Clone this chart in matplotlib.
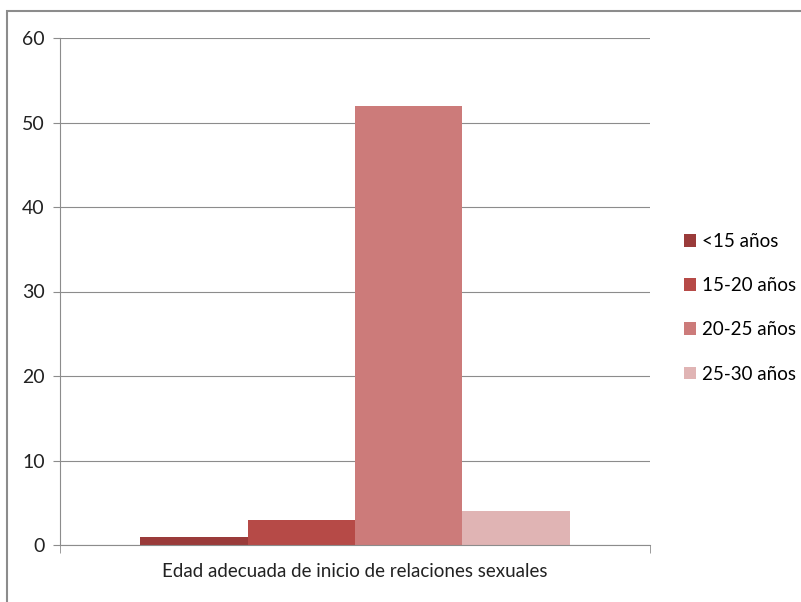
import matplotlib.pyplot as plt
from matplotlib.patches import Rectangle

# data
series = ['<15 años', '15-20 años', '20-25 años', '25-30 años']
values = [1, 3, 52, 4]
colors = ['#9A3B3A', '#B64A47', '#CC7B7A', '#E0B4B4']
category = 'Edad adecuada de inicio de relaciones sexuales'

plt.rcParams['font.family'] = ['Lato', 'DejaVu Sans']

W, H = 801, 602
fig = plt.figure(figsize=(W / 100, H / 100), dpi=100)
ax = fig.add_axes([60 / W, 57 / H, 590 / W, 507 / H])

# outer chart border
fig.patches.append(Rectangle((7 / W, -0.05), 1.2, 1.05 - 11 / H,
                             transform=fig.transFigure, fill=False,
                             edgecolor='#8c8c8c', linewidth=1.5))

w = 1 / (len(series) + 1.5)
for i, (name, v, c) in enumerate(zip(series, values, colors)):
    ax.bar((i - 1.5) * w, v, width=w, color=c, label=name, zorder=2)

ax.set_xlim(-0.5, 0.5)
ax.set_ylim(0, 60)
ax.set_yticks(range(0, 61, 10))
ax.yaxis.grid(True, color='#8c8c8c', linewidth=0.8, zorder=0)

for s in ['top', 'right']:
    ax.spines[s].set_visible(False)
for s in ['left', 'bottom']:
    ax.spines[s].set_color('#8c8c8c')
    ax.spines[s].set_linewidth(0.8)

ax.set_xticks([0])
ax.set_xticklabels([category])
ax.set_xticks([-0.5, 0.5], minor=True)
ax.tick_params(axis='x', which='major', length=0, pad=13, labelsize=13.5, labelcolor='#222222')
ax.tick_params(axis='x', which='minor', length=6, color='#8c8c8c', direction='out')
ax.tick_params(axis='y', length=5, color='#8c8c8c', labelsize=14, pad=6, labelcolor='#222222')

leg = ax.legend(loc='center left', bbox_to_anchor=(1.057, 0.468), frameon=False,
                borderaxespad=0, borderpad=0,
                fontsize=13.5, handlelength=0.65, handleheight=0.65,
                handletextpad=0.35, labelspacing=1.45)

fig.savefig('out.png', dpi=100)
